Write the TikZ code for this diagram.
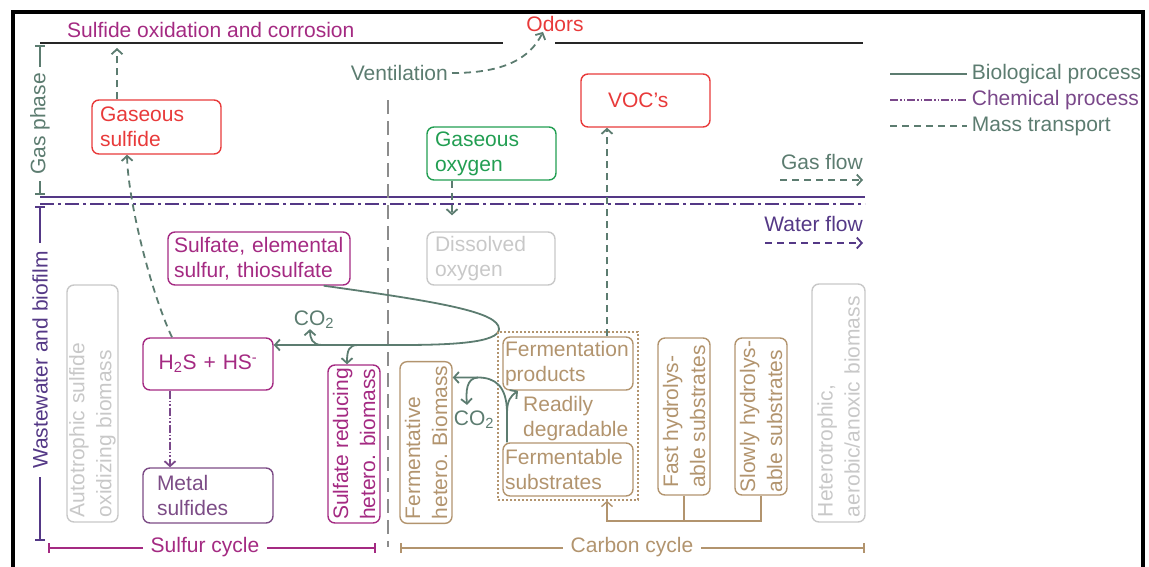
\documentclass[tikz,border=0pt]{standalone}
\usepackage{fontspec}
\setmainfont{Liberation Sans}
\usepackage{xcolor}
\usepackage{tikz}
\usetikzlibrary{arrows.meta, positioning}

\definecolor{biogr}{RGB}{92,124,112}
\definecolor{chempu}{RGB}{122,72,138}
\definecolor{watpu}{RGB}{84,56,134}
\definecolor{sulmg}{RGB}{164,42,130}
\definecolor{redox}{RGB}{232,58,58}
\definecolor{oxgr}{RGB}{34,158,82}
\definecolor{carbtn}{RGB}{178,148,110}
\definecolor{inact}{RGB}{200,200,200}
\definecolor{metpu}{RGB}{124,76,134}
\definecolor{sepgr}{RGB}{140,140,140}

\begin{document}
\begin{tikzpicture}[
  x=1pt, y=-1pt,
  font=\fontsize{21}{25}\selectfont,
  box/.style={rectangle, rounded corners=7pt, draw, line width=1.4pt,
              inner xsep=8pt, inner ysep=0pt, align=left},
  vbox/.style={box, rotate=90, inner xsep=4pt, font=\fontsize{21}{27}\selectfont},
  txt/.style={inner sep=0pt},
  tip/.style={-{Straight Barb[length=5pt,width=11pt]}},
  bio/.style={draw=biogr, line width=1.8pt, tip},
  mass/.style={draw=biogr, line width=1.8pt, dash pattern=on 7pt off 5pt, tip},
  chem/.style={draw=chempu, line width=1.8pt,
               dash pattern=on 8pt off 2pt on 1.5pt off 2pt on 1.5pt off 2pt, tip},
  brk/.style={line width=1.6pt, {Bar[width=10pt]}-{Bar[width=10pt]}}
]
\useasboundingbox (0,0) rectangle (1149,566);

% ---- Frame and phase boundaries ----
\draw[line width=4pt] (13,570) -- (13,12) -- (1143,12) -- (1143,570);
\draw[line width=1.3pt, black!85] (40,43) -- (503,43) (555,43) -- (863,43);
\draw[watpu, line width=2pt] (40,197) -- (865,197);
\draw[watpu, line width=2pt, dash pattern=on 14pt off 4pt on 3pt off 4pt] (40,204) -- (865,204);
\draw[sepgr, line width=1.6pt, dash pattern=on 14pt off 7pt] (388,100) -- (388,547);

% ---- Side brackets ----
\draw[brk, biogr] (40,45) -- (40,195);
\node[txt, fill=white, inner xsep=6pt, rotate=90, text=biogr] (gasph) at (40,124) {Gas phase};
\draw[brk, watpu] (40,206) -- (40,541);
\node[txt, fill=white, inner xsep=8pt, rotate=90, text=watpu] (watph) at (40,360) {Wastewater and biofilm};

% ---- Gas phase ----
\node[txt, text=sulmg, anchor=west] (corr) at (67,30) {Sulfide oxidation and corrosion};
\node[txt, text=redox] (odor) at (555,24) {Odors};
\node[txt, text=biogr, anchor=east] (vent) at (448,73) {Ventilation};
\coordinate (topS) at (117,48);

\node[box, draw=redox, text=redox, minimum width=129pt, minimum height=54pt,
      text width=113pt] (gsulf) at (156.5,127) {Gaseous\\sulfide};
\node[box, draw=oxgr, text=oxgr, minimum width=129pt, minimum height=53pt,
      text width=113pt] (goxy) at (491.5,153.5) {Gaseous\\oxygen};
\node[box, draw=redox, text=redox, minimum width=129pt, minimum height=53pt,
      inner xsep=27pt, text width=75pt] (voc) at (645.5,100.5) {VOC’s};

\draw[mass] ([xshift=4pt]vent.east) .. controls (505,73) and (530,58) .. ([xshift=-12pt]odor.south);

% ---- Flow directions ----
\node[txt, text=biogr, anchor=east] (gasf) at (863,162) {Gas flow};
\coordinate (gf0) at (780,180);
\coordinate (gf1) at (863,180);
\draw[mass] (gf0) -- (gf1);
\node[txt, text=watpu, anchor=east] (watf) at (863,224) {Water flow};
\coordinate (wf0) at (765,243);
\coordinate (wf1) at (863,243);
\draw[mass, draw=watpu] (wf0) -- (wf1);

% ---- Legend ----
\coordinate (lg1) at (890,74);
\coordinate (lg2) at (890,100);
\coordinate (lg3) at (890,126);
\draw[bio, -] (lg1) -- ++(77,0) node[txt, text=biogr, anchor=west, xshift=4pt] {Biological process};
\draw[chem, -] (lg2) -- ++(77,0) node[txt, text=chempu, anchor=west, xshift=4pt] {Chemical process};
\draw[mass, -] (lg3) -- ++(77,0) node[txt, text=biogr, anchor=west, xshift=4pt] {Mass transport};

% ---- Sulfur cycle ----
\node[box, draw=sulmg, text=sulmg, minimum width=182pt, minimum height=53pt,
      inner xsep=6pt, text width=170pt] (sulfat) at (259,258.5) {Sulfate,~elemental\\sulfur, thiosulfate};
\node[box, draw=inact, text=inact, minimum width=128pt, minimum height=53pt,
      text width=112pt] (dox) at (491,258.5) {Dissolved\\oxygen};
\node[vbox, draw=inact, text=inact, minimum width=237pt, minimum height=51pt,
      inner xsep=5pt, text width=227pt] (auto) at (92.5,403.5) {Autotrophic sulfide\\oxidizing biomass};
\node[box, draw=sulmg, text=sulmg, minimum width=130pt, minimum height=52pt,
      text width=114pt, align=center] (h2s) at (208,364) {H\textsubscript{2}S + HS\textsuperscript{-}};
\node[box, draw=metpu, text=metpu, minimum width=130pt, minimum height=55pt,
      inner xsep=14pt, text width=102pt] (metal) at (208,495.5) {Metal\\sulfides};
\node[vbox, draw=sulmg, text=sulmg, minimum width=158pt, minimum height=52pt,
      inner xsep=2pt] (srb) at (354,444) {Sulfate reducing\\hetero. biomass};
\node[txt, text=biogr] (co2a) at (314,320) {CO\textsubscript{2}};

\coordinate (turn) at (499,329);
\coordinate (bB) at (358,345);
\coordinate (bA) at (322,345);
\draw[bio] ([xshift=-27pt]sulfat.south east) .. controls (440,302) and (499,312) .. (turn)
  .. controls (499,343) and (450,345) .. (400,345) -- (bB) -- (bA) -- ([yshift=19pt]h2s.east);
\draw[bio] (bA) .. controls (312,345) and (310,338) .. ([xshift=-4pt]co2a.south);
\draw[bio] (bB) .. controls (349,345) and (347,350) .. ([xshift=-7pt]srb.east);

\draw[mass] ([xshift=-39.5pt]gsulf.north) -- (topS);
\draw[mass] ([xshift=-36pt]h2s.north) .. controls (150,290) and (128,200) .. ([xshift=-29.5pt]gsulf.south);
\draw[chem] ([xshift=-38pt]h2s.south) -- ([xshift=-38pt]metal.north);
\draw[mass, shorten >=16pt] ([xshift=-39.5pt]goxy.south) -- ([xshift=-39pt]dox.north);

% ---- Carbon cycle ----
\node[vbox, draw=carbtn, text=carbtn, minimum width=159pt, minimum height=52pt]
  (ferm) at (426,442.5) {Fermentative\\hetero. Biomass};
\node[draw=carbtn, line width=1.4pt, dash pattern=on 2pt off 2pt, minimum width=140pt,
      minimum height=168pt, inner sep=0pt] (fgrp) at (568,416) {};
\node[box, draw=carbtn, text=carbtn, minimum width=130pt, minimum height=53pt,
      inner xsep=2pt, text width=126pt] (fprod) at (568,363.5) {Fermentation\\products};
\node[txt, text=carbtn, anchor=north west, align=left] (rdeg) at (523,396) {Readily\\degradable};
\node[box, draw=carbtn, text=carbtn, minimum width=130pt, minimum height=53pt,
      inner xsep=2pt, text width=126pt] (fsub) at (568,469.5) {Fermentable\\substrates};
\node[vbox, draw=carbtn, text=carbtn, minimum width=157pt, minimum height=52pt]
  (fast) at (684,416.5) {Fast hydrolys-\\able substrates};
\node[vbox, draw=carbtn, text=carbtn, minimum width=157pt, minimum height=52pt,
      inner xsep=2pt] (slow) at (761,416.5) {Slowly hydrolys-\\able substrates};
\node[vbox, draw=inact, text=inact, minimum width=238pt, minimum height=53pt,
      inner xsep=5pt, text width=228pt] (hetero) at (838.5,403) {Heterotrophic,\\aerobic/anoxic biomass};
\node[txt, text=biogr] (co2b) at (474,420) {CO\textsubscript{2}};

\coordinate (fork) at (507,413);
\coordinate (cbr) at (478,377.5);
\draw[bio] ([xshift=-61pt]fsub.north) -- (fork) .. controls (507,400) and (511,396) .. ([xshift=-50pt]fprod.south);
\draw[bio] (fork) .. controls (507,386) and (495,377.5) .. (cbr) -- ([yshift=65pt]ferm.south);
\draw[bio] (cbr) .. controls (466,378) and (466,392) .. ([xshift=-7pt,yshift=6pt]co2b.north);

\draw[mass] ([xshift=39pt]fprod.north) -- ([xshift=39pt]fprod.north |- voc.south);

\coordinate (hub) at (607,521);
\draw[draw=carbtn, line width=1.4pt] (fast.west) -- (fast.west |- hub);
\draw[draw=carbtn, line width=1.4pt, tip] (slow.west) |- (hub) -- (fgrp.south -| hub);

% ---- Cycle brackets ----
\draw[brk, sulmg] (48,548) -- (376,548);
\node[txt, fill=white, inner xsep=8pt, text=sulmg] (scyc) at (205,547) {Sulfur cycle};
\draw[brk, carbtn] (400,548) -- (865,548);
\node[txt, fill=white, inner xsep=8pt, text=carbtn] (ccyc) at (632,547) {Carbon cycle};

\end{tikzpicture}
\end{document}
